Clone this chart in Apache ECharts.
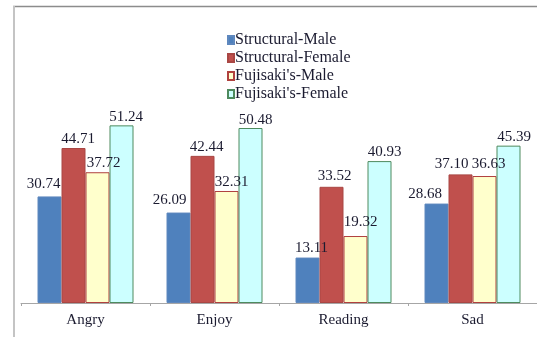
<!DOCTYPE html>
<html>
<head>
<meta charset="utf-8">
<style>
  html, body { margin: 0; padding: 0; background: #ffffff; }
  #chart { width: 537px; height: 337px; }
</style>
<script src="https://cdn.jsdelivr.net/npm/echarts@6/dist/echarts.min.js"></script>
</head>
<body>
<div id="chart"></div>
<script>
// Emotion categories on the x axis
var categories = ['Angry', 'Enjoy', 'Reading', 'Sad'];

// Series names
var seriesNames = ['Structural-Male', 'Structural-Female', "Fujisaki's-Male", "Fujisaki's-Female"];

// Values per series, one per category
var structuralMale   = [30.74, 26.09, 13.11, 28.68];
var structuralFemale = [44.71, 42.44, 33.52, 37.10];
var fujisakiMale     = [37.72, 32.31, 19.32, 36.63];
var fujisakiFemale   = [51.24, 50.48, 40.93, 45.39];

var values = [structuralMale, structuralFemale, fujisakiMale, fujisakiFemale];

// Bar styling: fill and outline
var fills   = ['#4F81BD', '#C0504D', '#FFFFCC', '#CCFFFF'];
var borders = ['#5F88BE', '#A94744', '#B0413E', '#4E8A5E'];

// Hand-placed label nudges [dx, height of label centre above bar top]
var labelNudge = [
  [[-6, 12.7], [-9, 12], [4, 9], [-11.5, 9.4]],
  [[4.5, 9], [4, 9.3], [3, 10.7], [-9, 10]],
  [[6, 8.7], [5, 8.7], [5, 13.7], [4, 11.7]],
  [[4.5, 8], [5, 8.3], [5, 8.7], [5.5, 9]]
];

var textColor = '#1b1b30';
var fontFamily = '"Liberation Serif", "Times New Roman", serif';

var series = values.map(function (arr, si) {
  return {
    name: seriesNames[si],
    type: 'bar',
    barWidth: 24,
    barGap: '0%',
    itemStyle: { color: fills[si], borderColor: borders[si], borderWidth: 1 },
    data: arr.map(function (v, ci) {
      var n = labelNudge[si][ci];
      return {
        value: v,
        label: { offset: [n[0], -(n[1] - 7.5)] }
      };
    }),
    label: {
      show: true,
      position: 'top',
      distance: 0,
      color: textColor,
      fontFamily: fontFamily,
      fontSize: 15,
      formatter: function (p) { return p.value.toFixed(2); }
    }
  };
});

var chart = echarts.init(document.getElementById('chart'), null, { renderer: 'canvas' });
chart.setOption({
  animation: false,
  backgroundColor: '#ffffff',
  legend: {
    orient: 'vertical',
    left: 227,
    top: 32,
    padding: 0,
    itemWidth: 6,
    itemHeight: 8,
    itemGap: 2,
    icon: 'rect',
    textStyle: {
      color: textColor,
      fontFamily: fontFamily,
      fontSize: 16,
      padding: [0, 0, 0, -4]
    },
    data: seriesNames
  },
  grid: { left: 21, right: 0, top: 95, bottom: 34 },
  xAxis: {
    type: 'category',
    data: categories,
    axisLine: { lineStyle: { color: '#a6a6a6', width: 1 } },
    axisTick: { show: true, length: 3, lineStyle: { color: '#a6a6a6' } },
    axisLabel: {
      color: textColor,
      fontFamily: fontFamily,
      fontSize: 15,
      margin: 10
    }
  },
  yAxis: {
    type: 'value',
    min: 0,
    max: 60,
    show: false,
    splitLine: { show: false }
  },
  graphic: [
    {
      type: 'line',
      shape: { x1: 13, y1: 6.5, x2: 537, y2: 6.5 },
      style: { stroke: '#8c8c8c', lineWidth: 1.5 }
    },
    {
      type: 'line',
      shape: { x1: 14, y1: 6, x2: 14, y2: 337 },
      style: { stroke: '#c4c4c4', lineWidth: 2 }
    }
  ],
  series: series
});
</script>
</body>
</html>
